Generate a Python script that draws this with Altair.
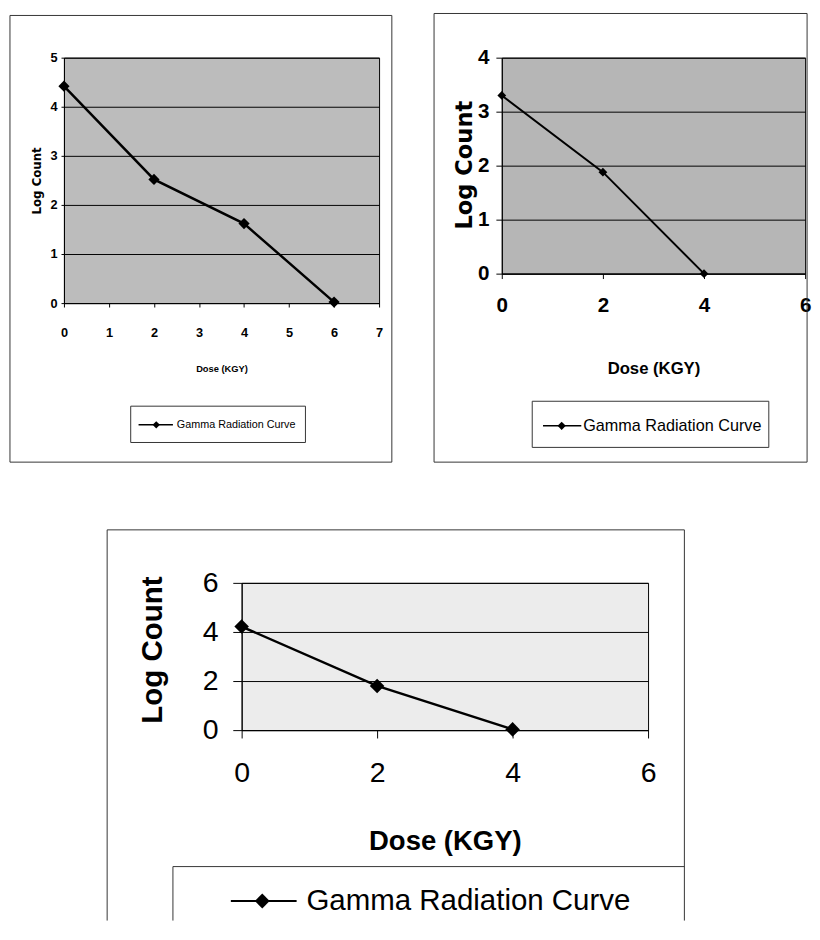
import altair as alt
import pandas as pd

# ---- data ----
dose_a = [0, 2, 4, 6]
log_a = [4.42, 2.52, 1.62, 0.02]
dose_b = [0, 2, 4]
log_b = [3.30, 1.88, 0.00]
dose_c = [0, 2, 4]
log_c = [4.22, 1.80, 0.03]

x_ticks_a = [0, 1, 2, 3, 4, 5, 6, 7]
y_ticks_a = [0, 1, 2, 3, 4, 5]
x_ticks_b = [0, 2, 4, 6]
y_ticks_b = [0, 1, 2, 3, 4]
x_ticks_c = [0, 2, 4, 6]
y_ticks_c = [0, 2, 4, 6]

x_title = "Dose (KGY)"
y_title = "Log Count"
series_name = "Gamma Radiation Curve"

WIDE = "DejaVu Sans, Verdana, sans-serif"
SANS = "Liberation Sans, Arial, sans-serif"
BORDER = "#333333"


def seg(x1, x2, y1, y2, color=BORDER, width=1, opacity=1):
    one = pd.DataFrame({"k": [0]})
    return alt.Chart(one).mark_rule(color=color, strokeWidth=width, opacity=opacity).encode(
        x=alt.value(x1), x2=alt.value(x2), y=alt.value(y1), y2=alt.value(y2)
    )


def box(x1, x2, y1, y2):
    return [seg(x1, x1, y1, y2), seg(x2, x2, y1, y2), seg(x1, x2, y1, y1), seg(x1, x2, y2, y2)]


def panel(dose, logc, xdom, ydom, xticks, yticks, w, h, st):
    df = pd.DataFrame({"dose": dose, "log": logc})
    lab = pd.DataFrame({"label": [series_name]})
    xaxis = alt.Axis(
        values=xticks, format="d", title=x_title, grid=False,
        domainColor="black", domainWidth=1, tickColor="black", tickSize=st["xtick"],
        labelFont=SANS, labelFontSize=st["lsize"], labelFontWeight=st["lweight"],
        labelColor="black", labelPadding=st["xlpad"], labelFlush=False, labelOverlap=False,
        titleFont=SANS, titleFontSize=st["xtsize"], titleFontWeight="bold",
        titleColor="black", titleY=st["xtY"], titleBaseline="middle",
    )
    yaxis = alt.Axis(
        values=yticks, format="d", title=y_title, grid=True, gridColor="black",
        gridOpacity=1, gridWidth=1, domainColor="black", domainWidth=1,
        tickColor="black", tickSize=st["ytick"],
        labelFont=SANS, labelFontSize=st["lsize"], labelFontWeight=st["lweight"],
        labelColor="black", labelPadding=st["ylpad"], labelOverlap=False,
        titleFont=st["ytfont"], titleFontSize=st["ytsize"], titleFontWeight="bold",
        titleColor="black", titleX=st["ytX"], titleY=st["ytY"], titleAngle=270,
        titleAlign="center", titleBaseline="middle",
    )
    base = alt.Chart(df)
    line = base.mark_line(color="black", strokeWidth=st["lw"]).encode(
        x=alt.X("dose:Q", scale=alt.Scale(domain=xdom, nice=False, zero=False), axis=xaxis),
        y=alt.Y("log:Q", scale=alt.Scale(domain=ydom, nice=False), axis=yaxis),
    )
    pts = base.mark_point(shape="diamond", filled=True, color="black", opacity=1,
                          size=st["ps"]).encode(x="dose:Q", y="log:Q")
    layers = [line, pts]
    layers += st["border"]
    layers += st["legbox"]
    lx1, lx2, ly, dx, tx = st["leg"]
    layers.append(seg(lx1, lx2, ly, ly, color="black", width=st["llw"]))
    layers.append(
        alt.Chart(lab).mark_point(shape="diamond", filled=True, color="black", opacity=1,
                                  size=st["lps"]).encode(x=alt.value(dx), y=alt.value(ly))
    )
    layers.append(
        alt.Chart(lab).mark_text(align="left", baseline="middle", font=SANS,
                                 fontSize=st["legsize"], color="black").encode(
            x=alt.value(tx), y=alt.value(ly), text="label:N")
    )
    return alt.layer(*layers).properties(
        width=w, height=h,
        view=alt.ViewBackground(fill=st["fill"], stroke="black", strokeWidth=1),
    )


st_a = dict(
    xtick=4, ytick=3, lsize=13, lweight="bold", xlpad=20, ylpad=4,
    xtsize=9.5, xtY=67, ytfont=WIDE, ytsize=12, ytX=-28, ytY=125,
    lw=2.5, ps=130, llw=1.5, lps=55, legsize=11, fill="#bcbcbc",
    border=box(-55, 334, -43, 412), legbox=box(68, 246, 355, 392),
    leg=(76, 111, 374, 94, 115),
)
st_b = dict(
    xtick=5, ytick=6, lsize=21, lweight="bold", xlpad=17, ylpad=7,
    xtsize=17, xtY=97, ytfont=WIDE, ytsize=23, ytX=-38, ytY=109,
    lw=2, ps=80, llw=1.5, lps=70, legsize=16.5, fill="#b6b6b6",
    border=box(-69, 311, -45, 412), legbox=box(31, 272, 350, 397),
    leg=(42, 81, 375, 61, 83),
)
st_c = dict(
    xtick=8, ytick=9, lsize=29, lweight="normal", xlpad=21, ylpad=15,
    xtsize=28, xtY=114, ytfont=SANS, ytsize=30, ytX=-91, ytY=68,
    lw=2.5, ps=220, llw=2, lps=230, legsize=30, fill="#ececec",
    border=[seg(-137, -137, -54, 344), seg(-137, 451, -54, -54), seg(451, 451, -54, 344)],
    legbox=[seg(-70, 451, 289, 289), seg(-70, -70, 289, 344)],
    leg=(-11, 56, 324, 21, 66),
)

p1 = panel(dose_a, log_a, [0, 7], [0, 5], x_ticks_a, y_ticks_a, 321, 250, st_a)
p2 = panel(dose_b, log_b, [0, 6], [0, 4], x_ticks_b, y_ticks_b, 309, 220, st_b)
p3 = panel(dose_c, log_c, [0, 6], [0, 6], x_ticks_c, y_ticks_c, 414, 150, st_c)

spacer = alt.Chart(pd.DataFrame({"k": [0]})).mark_point(size=1, opacity=0).encode(
    x=alt.value(0), y=alt.value(0)
).properties(width=1, height=1, view=alt.ViewBackground(strokeOpacity=0, fillOpacity=0))

top = alt.hconcat(p1, p2, spacing=41)
bottom = alt.hconcat(spacer, p3, spacing=42)
chart = alt.vconcat(top, bottom, spacing=67).properties(
    padding={"left": 1, "top": -4, "right": 0, "bottom": 0}
).configure(background="white")

chart.save("out.html", embed_options={"renderer": "svg", "actions": False})
